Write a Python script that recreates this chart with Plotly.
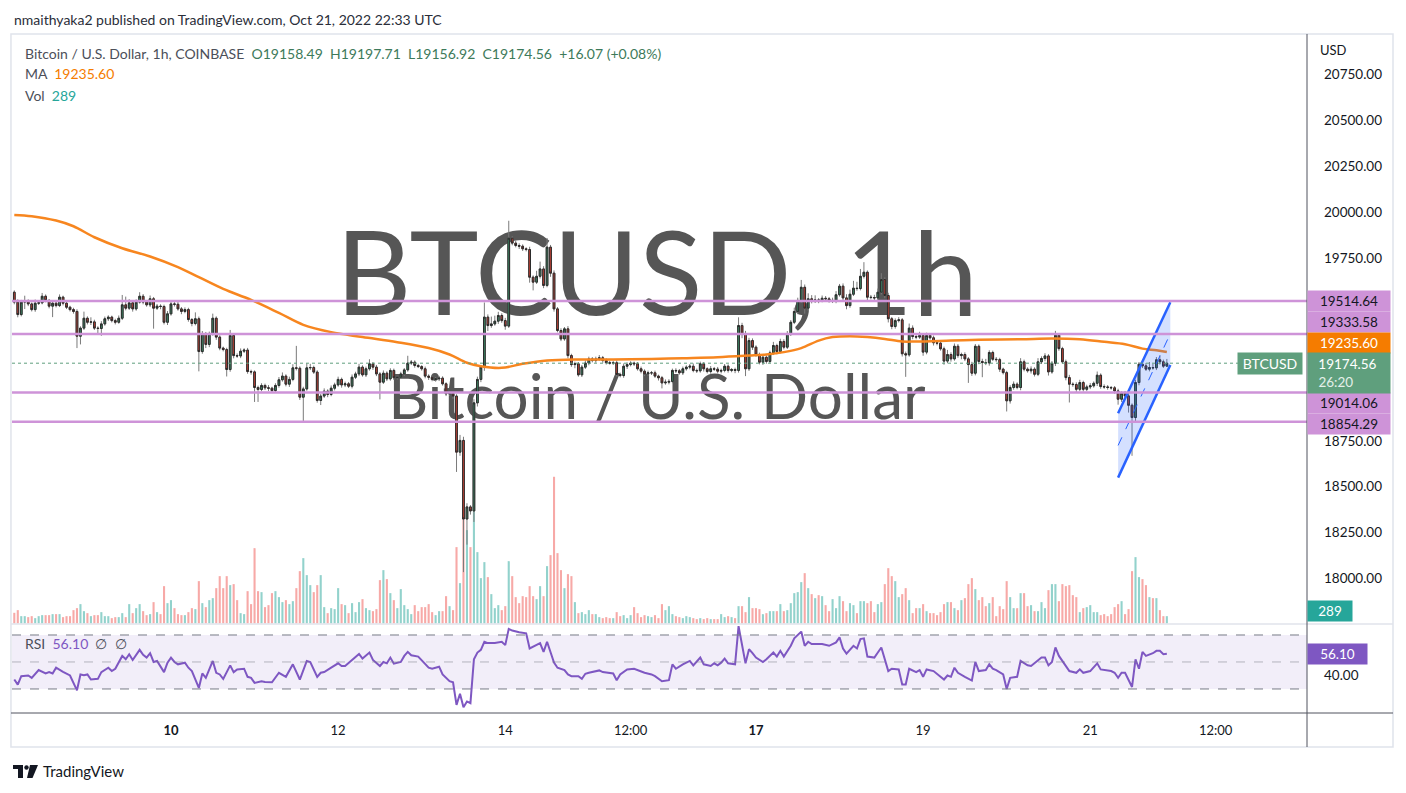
import plotly.graph_objects as go
import pandas as pd

# ------------------------------------------------------------------ data
first_open = 19562
closes = [
    19508, 19440, 19508, 19513, 19498, 19467, 19502, 19504, 19540, 19517,
    19486, 19502, 19489, 19535, 19502, 19480, 19467, 19457, 19322, 19366,
    19420, 19398, 19400, 19366, 19364, 19389, 19417, 19426, 19407, 19398,
    19420, 19493, 19475, 19504, 19471, 19508, 19540, 19508, 19493, 19526,
    19475, 19486, 19484, 19398, 19444, 19498, 19496, 19471, 19457, 19467,
    19413, 19391, 19417, 19238, 19335, 19277, 19335, 19420, 19317, 19257,
    19249, 19140, 19326, 19216, 19214, 19240, 19246, 19129, 19127, 19042,
    19031, 19053, 19040, 19038, 19025, 19053, 19084, 19104, 19060, 19086,
    19149, 19147, 18989, 19034, 19149, 19151, 19126, 18971, 18995, 19022,
    19004, 19038,
    19056, 19086, 19056, 19062, 19049, 19098, 19116, 19153, 19111, 19144,
    19171, 19153, 19116, 19071, 19120, 19089, 19135, 19095, 19098, 19116,
    19138, 19175, 19180, 19162, 19156, 19144, 19104, 19098, 19086, 19089,
    19093, 19062, 19007, 19009, 18995, 18689, 18753, 18324, 18390, 18368,
    18958, 19086, 19153, 19426, 19380, 19389, 19404, 19435, 19407, 19377,
    19857, 19830, 19817, 19813, 19799, 19795, 19644, 19617, 19649, 19689,
    19599, 19808, 19666, 19471, 19353, 19307, 19362, 19216, 19167, 19171,
    19111, 19153, 19175, 19198, 19189, 19198, 19204, 19189, 19177, 19175,
    19177, 19113, 19107, 19158, 19167, 19175, 19171, 19144, 19131,
    19116, 19122,
    19122, 19104, 19095, 19067, 19071, 19075, 19135, 19133, 19122, 19144,
    19153, 19158, 19135, 19133, 19171, 19144, 19129, 19144, 19142, 19131,
    19135, 19158, 19135, 19140, 19135, 19380, 19331, 19144, 19298, 19262,
    19220, 19180, 19207, 19184, 19231, 19271, 19238, 19293, 19262, 19335,
    19398, 19457, 19517, 19589, 19475, 19526, 19513, 19520, 19517, 19529,
    19526, 19515, 19517, 19548, 19595, 19531, 19489, 19551, 19584, 19582,
    19649, 19671, 19535, 19533, 19531, 19562, 19631, 19544, 19417, 19375,
    19407, 19411, 19226, 19220, 19366, 19320, 19317, 19326, 19235, 19326,
    19313, 19286, 19284, 19253, 19186, 19222, 19198, 19267, 19216, 19222,
    19198, 19167, 19120, 19267, 19184,
    19178, 19176, 19233, 19196, 19194, 19142, 19123, 18969, 19042, 19060,
    19042, 19182, 19142, 19133, 19142, 19114, 19182, 19200, 19214, 19127,
    19174, 19327, 19254, 19182, 19096, 19060, 19058, 19032, 19069, 19032,
    19045, 19051, 19065, 19109, 19047, 19045, 19042, 19040, 19023, 18978,
    19011, 18996, 18945, 18878, 19069, 19169, 19160, 19142, 19151, 19149,
    19193, 19182, 19158.49, 19174.56,
]
upper_wicks = [
    10, 15, 12, 30, 10, 8, 20, 15, 18, 10,
    8, 12, 10, 15, 8, 10, 8, 10, 12, 10,
    36, 10, 25, 12, 10, 15, 12, 10, 8, 10,
    15, 54, 45, 20, 10, 15, 22, 12, 10, 18,
    10, 12, 10, 10, 15, 12, 10, 15, 10, 12,
    10, 8, 35, 12, 15, 10, 12, 25, 10, 10,
    8, 10, 30, 10, 12, 15, 10, 12, 10, 8,
    10, 12, 10, 15, 8, 12, 15, 20, 10, 15,
    20, 120, 10, 12, 25, 20, 10, 10, 12, 15,
    10, 15,
    12, 15, 10, 12, 10, 15, 12, 18, 10, 12,
    25, 10, 12, 10, 15, 10, 12, 10, 8, 12,
    10, 40, 12, 10, 10, 8, 12, 10, 8, 10,
    12, 10, 8, 10, 8, 10, 30, 20, 20, 10,
    20, 15, 10, 80, 15, 40, 30, 20, 12, 15,
    95, 10, 15, 12, 10, 8, 15, 10, 30, 40,
    15, 50, 12, 15, 10, 12, 10, 15, 10, 12,
    10, 12, 15, 12, 10, 12, 15, 10, 12, 10,
    10, 12, 10, 15, 12, 10, 8, 10, 12,
    10, 12,
    10, 12, 8, 10, 15, 12, 10, 12, 10, 12,
    10, 12, 15, 10, 12, 10, 8, 15, 10, 12,
    10, 12, 10, 8, 10, 45, 15, 20, 15, 12,
    10, 12, 15, 10, 12, 20, 10, 15, 12, 15,
    12, 20, 15, 40, 15, 30, 20, 25, 10, 15,
    12, 10, 15, 20, 12, 15, 20, 25, 40, 35,
    40, 55, 10, 12, 15, 20, 35, 12, 15, 10,
    12, 15, 10, 12, 25, 15, 10, 20, 12, 15,
    10, 12, 15, 10, 12, 25, 12, 15, 12, 10,
    12, 10, 15, 12, 10,
    15, 20, 12, 10, 12, 10, 8, 10, 12, 15,
    10, 20, 12, 10, 15, 10, 20, 12, 15, 10,
    12, 24, 12, 10, 12, 15, 10, 12, 15, 10,
    12, 15, 10, 20, 10, 12, 10, 8, 10, 12,
    10, 12, 15, 10, 15, 12, 25, 15, 30, 20,
    15, 25, 12, 23.15,
]
lower_wicks = [
    12, 15, 10, 38, 12, 10, 12, 10, 8, 10,
    12, 60, 10, 8, 12, 10, 10, 12, 65, 45,
    10, 12, 15, 10, 35, 40, 10, 12, 10, 12,
    8, 10, 12, 10, 15, 10, 8, 12, 10, 12,
    112, 10, 15, 12, 15, 10, 12, 10, 15, 10,
    12, 15, 10, 108, 12, 20, 15, 10, 15, 12,
    10, 38, 12, 15, 10, 12, 10, 12, 15, 79,
    68, 10, 12, 15, 10, 8, 12, 10, 12, 15,
    10, 12, 15, 130, 10, 12, 10, 12, 25, 10,
    15, 10,
    12, 10, 15, 12, 10, 12, 10, 12, 10, 12,
    10, 15, 12, 94, 10, 12, 10, 12, 10, 10,
    12, 10, 10, 12, 8, 10, 12, 15, 10, 12,
    12, 10, 12, 10, 15, 108, 20, 290, 140, 20,
    60, 20, 15, 20, 30, 12, 10, 15, 12, 20,
    10, 12, 10, 15, 12, 10, 30, 45, 10, 12,
    15, 10, 20, 15, 10, 12, 10, 15, 12, 20,
    10, 12, 10, 12, 10, 12, 10, 12, 10, 8,
    10, 12, 10, 12, 15, 10, 12, 10, 12,
    12, 10,
    12, 10, 15, 30, 10, 12, 10, 12, 10, 12,
    10, 12, 10, 12, 10, 15, 10, 12, 10, 12,
    12, 10, 12, 10, 15, 12, 20, 40, 12, 15,
    10, 12, 15, 12, 10, 12, 15, 10, 12, 10,
    12, 10, 15, 12, 30, 15, 12, 10, 15, 10,
    12, 10, 12, 15, 10, 15, 20, 12, 10, 12,
    10, 12, 20, 10, 12, 10, 12, 15, 20, 15,
    12, 10, 15, 120, 10, 15, 12, 10, 20, 12,
    10, 15, 12, 10, 20, 12, 15, 10, 12, 20,
    12, 100, 15, 12, 15,
    80, 12, 15, 10, 12, 15, 10, 58, 15, 12,
    10, 15, 12, 10, 15, 12, 10, 12, 15, 20,
    10, 15, 12, 10, 15, 100, 12, 15, 10, 12,
    10, 12, 10, 15, 12, 10, 12, 10, 15, 30,
    15, 12, 40, 209, 20, 15, 12, 10, 12, 10,
    12, 15, 10, 1.57,
]
volumes = [
    422, 528, 290, 290, 251, 290, 211, 290, 330, 330,
    330, 370, 370, 370, 251, 290, 290, 528, 607, 766,
    488, 409, 290, 330, 330, 449, 290, 290, 211, 251,
    251, 409, 251, 766, 409, 607, 766, 488, 330, 370,
    845, 449, 370, 1478, 805, 924, 607, 370, 330, 330,
    449, 607, 568, 1676, 805, 647, 924, 1003, 1399, 1874,
    1399, 1874, 1518, 1558, 924, 409, 370, 1280, 766, 2983,
    1280, 1241, 647, 726, 1201, 1280, 1043, 845, 924, 766,
    884, 1399, 2072, 2587, 1914, 1518, 1241, 1518, 1914, 647,
    409, 607, 568, 1399, 766, 726, 409, 805, 449, 845,
    964, 607, 528, 488, 568, 1716, 2112, 1756, 1201, 924,
    607, 1360, 726, 568, 370, 726, 488, 647, 647, 766,
    449, 330, 488, 488, 1082, 686, 528, 3023, 1597, 5834,
    3696, 3023, 4726, 2825, 1795, 2429, 1835, 1162, 607, 726,
    528, 686, 2468, 1874, 1043, 805, 1082, 1043, 1478, 1082,
    964, 1478, 1082, 2270, 2706, 5808, 2785, 2112, 1399, 1954,
    1874, 845, 409, 449, 370, 528, 370, 370, 251, 211,
    251, 211, 211, 449, 290, 330, 211, 330, 647, 409,
    251, 330, 290, 251, 330, 211, 766,
    528, 686, 370, 290, 251, 211, 290, 251, 211, 172,
    211, 172, 211, 172, 172, 172, 370, 251, 290, 251,
    211, 686, 686, 449, 1043, 607, 607, 568, 370, 409,
    488, 488, 488, 766, 488, 528, 805, 1201, 1241, 1637,
    1993, 1399, 1162, 1003, 1122, 1082, 726, 488, 964, 607,
    1082, 884, 488, 805, 726, 409, 884, 884, 805, 884,
    449, 766, 845, 1558, 2191, 1874, 1676, 1043, 1162, 1399,
    924, 409, 607, 607, 766, 488, 409, 409, 330, 449,
    766, 845, 845, 607, 528, 924, 1003, 1558, 1795, 1360,
    924, 1043, 686, 805, 1043, 290, 686, 568, 1676, 1043,
    607, 607, 1201, 1201, 686, 726, 488, 488, 845, 607,
    1320, 1558, 1558, 884, 1558, 1478, 1518, 1122, 1043, 449,
    607, 647, 726, 449, 449, 330, 370, 290, 370, 647,
    766, 884, 370, 568, 2072, 2627, 1835, 1756, 1518, 1043,
    1003, 1003, 528, 290, 289,
]
# moving average: (hours from 2022-10-10 00:00, value)
ma_points = [
    (-45, 19984), (-40, 19977), (-33, 19953), (-28, 19922), (-22, 19862), (-14, 19802),
    (-6, 19757), (2, 19699), (8, 19644), (15, 19580), (23, 19520), (31, 19449),
    (38, 19384), (46, 19344), (55, 19317), (65, 19289), (74, 19257), (80, 19222),
    (85, 19177), (89, 19158), (95, 19149), (101, 19171), (108, 19189), (117, 19195),
    (127, 19195), (138, 19198), (147, 19202), (157, 19207), (166, 19216), (171, 19222),
    (176, 19235), (181, 19257), (186, 19298), (190, 19317), (195, 19322), (200, 19317),
    (205, 19307), (210, 19293), (214, 19293), (224, 19298), (232, 19302), (244, 19305),
    (253, 19309), (261, 19305), (268, 19291), (274, 19278), (279, 19254), (283, 19245),
    (286, 19235.60),
]
# RSI: (bar number, value)
rsi_points = [
    (1, 37), (2, 33.25), (3, 39.5), (5, 40), (6, 38.25), (7, 41.5), (8, 44), (10, 41.5), (11, 42.5), (12, 41.5),
    (13, 45.75), (15, 42.75), (16, 41.5), (17, 40), (19, 29), (20, 40.75), (21, 40.25), (22, 40.75), (23, 37), (25, 37.5),
    (26, 42.5), (28, 45.75), (29, 43.25), (30, 45), (32, 54.5), (33, 52), (34, 55.75), (35, 51.5), (37, 59), (38, 55.25),
    (39, 53.25), (40, 56.5), (41, 50), (42, 50.75), (44, 42.5), (45, 49.5), (46, 53.25), (47, 50), (48, 48.25), (50, 49.5),
    (51, 45.75), (52, 43.25), (54, 30.75), (55, 41.5), (56, 38.25), (58, 50.75), (59, 42), (60, 40.75), (61, 37.5), (63, 47.5),
    (64, 42.5), (65, 44.5), (67, 45), (68, 39), (69, 38.25), (70, 34.5), (72, 35.75), (73, 35.25), (75, 35), (76, 38.25),
    (77, 42), (79, 39), (81, 48.25), (83, 37), (84, 44.5), (85, 50.75), (86, 50), (88, 39), (89, 42), (90, 42.5),
    (92, 45.75), (94, 49), (95, 47), (96, 47), (98, 51.5), (100, 56), (101, 52.5), (103, 57), (104, 51.5), (106, 47),
    (107, 50), (108, 49), (109, 53.25), (110, 48.75), (112, 50), (113, 54.5), (114, 57.5), (115, 55), (117, 54), (119, 49),
    (120, 45.75), (121, 45), (123, 46.5), (124, 40.75), (126, 35.75), (127, 35), (128, 18.25), (129, 26.5), (130, 16.5), (131, 20.75),
    (132, 19.5), (133, 52), (134, 57), (135, 59), (136, 65), (137, 64), (139, 64), (141, 65), (142, 62.5), (143, 74.5),
    (144, 73.25), (146, 72), (148, 71.25), (149, 60), (151, 62.5), (152, 64), (153, 57.5), (154, 65), (156, 49.5), (157, 45.75),
    (159, 44), (160, 40.75), (161, 39.5), (163, 39.5), (164, 37.5), (165, 41.25), (166, 42), (167, 42.5), (169, 43.75), (170, 42.5),
    (173, 41.5), (174, 36.5), (175, 40.75), (177, 44.5), (179, 45), (182, 42), (184, 40.75), (185, 39.5), (187, 35.75), (189, 36.5),
    (190, 48.25), (191, 45), (193, 48.25), (195, 50.75), (196, 47.5), (198, 53.25),
    (199, 48.25), (201, 47), (202, 49), (203, 47.5), (204, 49.5), (205, 52.5), (206, 49), (208, 48.25), (209, 76.5), (211, 49),
    (212, 59.5), (213, 56.5), (214, 53.25), (216, 50), (217, 52), (219, 57), (220, 54), (221, 58.25), (222, 54), (224, 62),
    (225, 67.5), (227, 72.5), (228, 62), (229, 65), (230, 63.25), (233, 63.25), (235, 62), (237, 64.5), (238, 68.25), (239, 60),
    (240, 56.25), (242, 62), (243, 60), (244, 67), (245, 67.5), (246, 54), (248, 53.25), (249, 57), (250, 60.75), (252, 43.25),
    (253, 45), (255, 44.5), (256, 33.25), (257, 33.25), (258, 45), (260, 42.5), (261, 44), (262, 39), (263, 44.5), (265, 43.25),
    (268, 37), (269, 40), (270, 39), (271, 45.75), (272, 42), (274, 39), (276, 36.25), (277, 50), (278, 43.25), (280, 44),
    (281, 48.25), (282, 45), (283, 44), (285, 40.75), (286, 30), (287, 38.25), (289, 39), (290, 50.75), (292, 47.5), (293, 47),
    (295, 50.75), (296, 53.25), (297, 53.25), (298, 47.5), (299, 50), (300, 60.75), (301, 54.5), (304, 43.25), (306, 42), (307, 44.5),
    (308, 42), (310, 43.25), (312, 49), (313, 44.5), (316, 43.25), (317, 42), (318, 38.25), (319, 42), (320, 42), (322, 31.5),
    (323, 52), (324, 45), (325, 57.5), (326, 54.5), (328, 56.5), (329, 58.25), (330, 58.25), (331, 55.75), (332, 56.1),
]
levels = [19514.64, 19333.58, 19014.06, 18854.29]
ma_last = 19235.60
last_close = 19174.56
last_volume = 289
rsi_last = 56.10
channel_times = ["2022-10-21 08:00", "2022-10-21 23:00"]
channel_lower = [18550, 19165]
channel_upper = [18901, 19507]
x_tick_times = ["2022-10-10", "2022-10-12", "2022-10-14", "2022-10-15 12:00",
                "2022-10-17", "2022-10-19", "2022-10-21", "2022-10-22 12:00"]
x_tick_text = ["<b>10</b>", "12", "14", "12:00", "<b>17</b>", "19", "21", "12:00"]
price_ticks = [18000, 18250, 18500, 18750, 19750, 20000, 20250, 20500, 20750]
rsi_ticks = [40]

assert len(closes) == len(upper_wicks) == len(lower_wicks) == len(volumes) == 332

# ------------------------------------------------------------------ derived
times = pd.date_range("2022-10-08 03:00", periods=len(closes), freq="h")
opens = [first_open] + closes[:-1]
highs = [max(o, c) + u for o, c, u in zip(opens, closes, upper_wicks)]
lows = [min(o, c) - l for o, c, l in zip(opens, closes, lower_wicks)]
body_hi = [max(o, c) for o, c in zip(opens, closes)]
body_lo = [min(o, c) for o, c in zip(opens, closes)]
t0 = pd.Timestamp("2022-10-10 00:00")
ma_x = [t0 + pd.Timedelta(hours=h) for h, _ in ma_points]
ma_y = [v for _, v in ma_points]
rsi_x = [times[i - 1] for i, _ in rsi_points]
rsi_y = [v for _, v in rsi_points]

GREEN = "#3f8f6a"
RED = "#cf4336"
vol_colors = ["rgba(38,166,154,0.5)" if c >= o else "rgba(239,83,80,0.5)"
              for o, c in zip(opens, closes)]

x_left = t0 + pd.Timedelta(hours=-45.66)
x_right = t0 + pd.Timedelta(hours=326.25)
x_mid = x_left + (x_right - x_left) * 0.498

FONT = "Lato"
TXT = "#131722"

fig = go.Figure()

# watermark (base subplot, drawn underneath everything)
fig.add_trace(go.Scatter(
    x=[x_mid, x_mid], y=[0.575, 0.375], mode="text",
    text=["BTCUSD, 1h", "Bitcoin / U.S. Dollar"],
    textfont=dict(size=[117, 62], color="#565656", family=FONT),
    hoverinfo="skip", xaxis="x", yaxis="y"))

# volume
fig.add_trace(go.Bar(x=times, y=volumes, marker_color=vol_colors, marker_line_width=0,
                     width=0.6 * 3600000, xaxis="x", yaxis="y2", hoverinfo="skip"))

# candles: wicks, then bodies with dark outline
fig.add_trace(go.Candlestick(
    x=times, open=opens, high=highs, low=lows, close=closes,
    increasing=dict(line=dict(color="#7a7a7a", width=1), fillcolor=GREEN),
    decreasing=dict(line=dict(color="#7a7a7a", width=1), fillcolor=RED),
    whiskerwidth=0, xaxis="x", yaxis="y3", hoverinfo="skip"))
fig.add_trace(go.Candlestick(
    x=times, open=opens, high=body_hi, low=body_lo, close=closes,
    increasing=dict(line=dict(color="#2b2b2b", width=1), fillcolor=GREEN),
    decreasing=dict(line=dict(color="#2b2b2b", width=1), fillcolor=RED),
    whiskerwidth=0, xaxis="x", yaxis="y3", hoverinfo="skip"))

# MA
fig.add_trace(go.Scatter(x=ma_x, y=ma_y, mode="lines", line=dict(color="#f7861f", width=2.5, shape="spline"),
                         xaxis="x", yaxis="y3", hoverinfo="skip"))

# channel drawing
fig.add_trace(go.Scatter(
    x=[channel_times[0], channel_times[1], channel_times[1], channel_times[0], channel_times[0]],
    y=[channel_lower[0], channel_lower[1], channel_upper[1], channel_upper[0], channel_lower[0]],
    mode="lines", fill="toself", fillcolor="rgba(41,98,255,0.2)", line=dict(width=0),
    xaxis="x", yaxis="y3", hoverinfo="skip"))
for ys in (channel_lower, channel_upper):
    fig.add_trace(go.Scatter(x=channel_times, y=ys, mode="lines", line=dict(color="#2962ff", width=2.5),
                             xaxis="x", yaxis="y3", hoverinfo="skip"))
fig.add_trace(go.Scatter(x=channel_times,
                         y=[(a + b) / 2 for a, b in zip(channel_lower, channel_upper)],
                         mode="lines", line=dict(color="#2962ff", width=1, dash="dash"),
                         xaxis="x", yaxis="y3", hoverinfo="skip"))

# RSI
fig.add_trace(go.Scatter(x=rsi_x, y=rsi_y, mode="lines", line=dict(color="#7e57c2", width=2),
                         xaxis="x", yaxis="y4", hoverinfo="skip"))

# ------------------------------------------------------------------ layout
MAIN_BOT = 0.1313
RSI_TOP = 0.1298
R_EDGE = (1393 - 12) / 1295
B_EDGE = 1 - (747 - 35) / 678


def px(x):
    return (x - 12) / 1295


def py(y):
    return 1 - (y - 35) / 678


shapes = []
# RSI band and dashed levels
shapes.append(dict(type="rect", xref="paper", x0=0, x1=1, yref="y4", y0=30, y1=70,
                   fillcolor="rgba(126,87,194,0.1)", line=dict(width=0), layer="below"))
for lv, col in ((70, "#787b86"), (50, "rgba(120,123,134,0.5)"), (30, "#787b86")):
    shapes.append(dict(type="line", xref="paper", x0=0, x1=1, yref="y4", y0=lv, y1=lv,
                       line=dict(color=col, width=1, dash="dash")))
# horizontal levels
for lv in levels:
    shapes.append(dict(type="line", xref="paper", x0=0, x1=1, yref="y3", y0=lv, y1=lv,
                       line=dict(color="#ce93d8", width=2.5)))
# last-price dotted line
shapes.append(dict(type="line", xref="paper", x0=0, x1=px(1240), yref="y3",
                   y0=last_close, y1=last_close, line=dict(color="#5f9f7d", width=1, dash="dot")))
# frame
shapes.append(dict(type="rect", xref="paper", yref="paper", x0=-0.0008, x1=R_EDGE, y0=B_EDGE, y1=1.0015,
                   line=dict(color="#e0e3eb", width=1.5)))
shapes.append(dict(type="line", xref="paper", yref="paper", x0=-0.0008, x1=R_EDGE, y0=MAIN_BOT, y1=MAIN_BOT,
                   line=dict(color="#e0e3eb", width=1.5)))
shapes.append(dict(type="line", xref="paper", yref="paper", x0=1, x1=1, y0=B_EDGE, y1=1.0015,
                   line=dict(color="#50535e", width=1)))
shapes.append(dict(type="line", xref="paper", yref="paper", x0=-0.0008, x1=R_EDGE, y0=0, y1=0,
                   line=dict(color="#50535e", width=1)))

# TradingView logo
shapes.append(dict(type="path", xref="paper", yref="paper",
                   path=f"M {px(13)},{py(765)} L {px(23)},{py(765)} L {px(23)},{py(778)} L {px(18)},{py(778)} "
                        f"L {px(18)},{py(769)} L {px(13)},{py(769)} Z",
                   fillcolor="#131722", line=dict(width=0)))
shapes.append(dict(type="circle", xref="paper", yref="paper", x0=px(24.3), x1=px(28.7), y0=py(769.7), y1=py(765.3),
                   fillcolor="#131722", line=dict(width=0)))
shapes.append(dict(type="path", xref="paper", yref="paper",
                   path=f"M {px(30)},{py(765)} L {px(38)},{py(765)} L {px(32.5)},{py(778)} L {px(27)},{py(778)} Z",
                   fillcolor="#131722", line=dict(width=0)))

ann = []
ann.append(dict(xref="paper", yref="paper", x=0, y=py(19), xanchor="left", yanchor="middle", showarrow=False,
                text="nmaithyaka2 published on TradingView.com, Oct 21, 2022 22:33 UTC",
                font=dict(size=14, color="#2a2e39", family=FONT)))
ann.append(dict(xref="paper", yref="paper", x=px(23), y=py(53), xanchor="left", yanchor="middle", showarrow=False,
                text="Bitcoin / U.S. Dollar, 1h, COINBASE&nbsp;&nbsp;<span style='color:#3d7a5a'>O19158.49&nbsp;&nbsp;"
                     "H19197.71&nbsp;&nbsp;L19156.92&nbsp;&nbsp;C19174.56&nbsp;&nbsp;+16.07 (+0.08%)</span>",
                font=dict(size=14, color="#4c4f59", family=FONT)))
ann.append(dict(xref="paper", yref="paper", x=px(23), y=py(74), xanchor="left", yanchor="middle", showarrow=False,
                text=f"MA&nbsp;&nbsp;<span style='color:#f57c00'>{ma_last:.2f}</span>",
                font=dict(size=14, color="#4c4f59", family=FONT)))
ann.append(dict(xref="paper", yref="paper", x=px(23), y=py(95), xanchor="left", yanchor="middle", showarrow=False,
                text=f"Vol&nbsp;&nbsp;<span style='color:#26a69a'>{last_volume}</span>",
                font=dict(size=14, color="#4c4f59", family=FONT)))
ann.append(dict(xref="paper", yref="paper", x=px(23), y=py(643), xanchor="left", yanchor="middle", showarrow=False,
                text=f"RSI&nbsp;&nbsp;<span style='color:#7e57c2'>{rsi_last:.2f}</span>&nbsp;&nbsp;∅&nbsp;&nbsp;∅",
                font=dict(size=14, color="#4c4f59", family=FONT)))
ann.append(dict(xref="paper", yref="paper", x=px(41), y=py(771), xanchor="left", yanchor="middle", showarrow=False,
                text="TradingView", font=dict(size=15, color=TXT, family=FONT)))
ann.append(dict(xref="paper", yref="paper", x=px(1318), y=py(50), xanchor="left", yanchor="middle", showarrow=False,
                text="USD", font=dict(size=13, color=TXT, family=FONT)))

# price-scale labels
label_shift = {19514.64: 0, 19333.58: 11.6, 19014.06: -10.4, 18854.29: -2}
for lv in levels:
    ann.append(dict(xref="paper", yref="y3", x=1, y=lv, xanchor="left", yanchor="middle", yshift=label_shift[lv],
                    showarrow=False, text=f"{lv:.2f}", bgcolor="#ce93d8", width=82, height=20, borderpad=0,
                    font=dict(size=13.5, color=TXT, family=FONT)))
ann.append(dict(xref="paper", yref="y3", x=1, y=ma_last, xanchor="left", yanchor="middle", yshift=9,
                showarrow=False, text=f"{ma_last:.2f}", bgcolor="#f57c00", width=82, height=20, borderpad=0,
                font=dict(size=13.5, color="white", family=FONT)))
ann.append(dict(xref="paper", yref="y3", x=1, y=last_close, xanchor="left", yanchor="middle", yshift=-9.8,
                showarrow=False,
                text=f"&nbsp;&nbsp;&nbsp;{last_close:.2f}<br>&nbsp;&nbsp;&nbsp;<span style='color:#e4f0e9'>26:20</span>",
                bgcolor="#5f9f7d", width=82, height=40,
                borderpad=0, align="left", font=dict(size=13.5, color="white", family=FONT)))
ann.append(dict(xref="paper", yref="y3", x=1, y=last_close, xanchor="right", yanchor="middle", xshift=-4,
                showarrow=False, text="BTCUSD", bgcolor="#5f9f7d", width=64, height=21, borderpad=0,
                font=dict(size=14, color="white", family=FONT)))
ann.append(dict(xref="paper", yref="y2", x=1, y=0, xanchor="left", yanchor="bottom", yshift=1,
                showarrow=False, text=f"{last_volume}", bgcolor="#26a69a", width=44, height=20, borderpad=0,
                font=dict(size=13.5, color="white", family=FONT)))
ann.append(dict(xref="paper", yref="y4", x=1, y=rsi_last, xanchor="left", yanchor="middle",
                showarrow=False, text=f"{rsi_last:.2f}", bgcolor="#7e57c2", width=59, height=20, borderpad=0,
                font=dict(size=13.5, color="white", family=FONT)))

# the page body has an 8px margin: figure is sized/offset so the plot lands on the target pixels
fig.update_layout(
    width=1398, height=785,
    margin=dict(l=4, r=99, t=27, b=80),
    paper_bgcolor="white", plot_bgcolor="white",
    showlegend=False, hovermode=False,
    font=dict(family=FONT, color=TXT, size=13),
    xaxis=dict(domain=[0, 1], type="date", range=[x_left, x_right], anchor="y4",
               showgrid=False, zeroline=False, showline=False, ticks="",
               tickvals=x_tick_times, ticktext=x_tick_text, tickfont=dict(size=13, color=TXT),
               ticklabelstandoff=8, rangeslider=dict(visible=False), fixedrange=True),
    yaxis=dict(domain=[MAIN_BOT, 1], range=[0, 1], visible=False, fixedrange=True),
    yaxis2=dict(overlaying="y", range=[-20, 23300], visible=False, fixedrange=True),
    yaxis3=dict(overlaying="y", side="right", range=[17751, 20966], showgrid=False, zeroline=False,
                showline=False, ticks="", tickvals=price_ticks, ticktext=[f"{v:.2f}" for v in price_ticks],
                tickfont=dict(size=13.5, color=TXT), ticklabelstandoff=16, fixedrange=True),
    yaxis4=dict(domain=[0, RSI_TOP], range=[12.2, 77.4], side="right", anchor="x", showgrid=False,
                zeroline=False, showline=False, ticks="", tickvals=rsi_ticks,
                ticktext=[f"{v:.2f}" for v in rsi_ticks], tickfont=dict(size=13.5, color=TXT),
                ticklabelstandoff=16, fixedrange=True),
    shapes=shapes, annotations=ann,
)

fig.write_html("out.html")
